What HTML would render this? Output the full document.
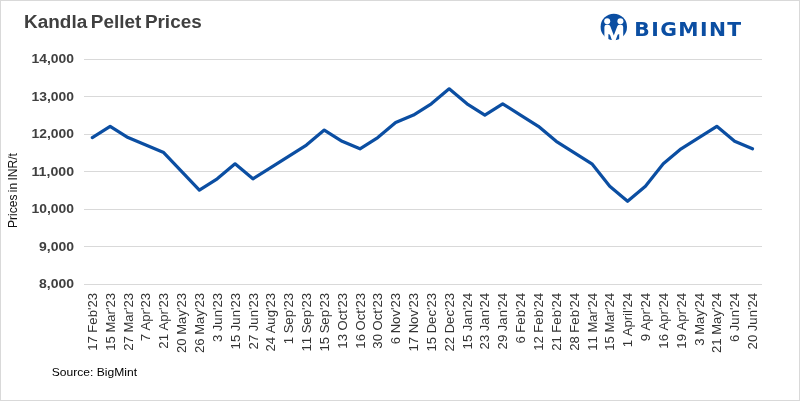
<!DOCTYPE html>
<html><head><meta charset="utf-8"><title>Kandla Pellet Prices</title>
<style>
html,body{margin:0;padding:0;background:#fff;}
body{width:800px;height:401px;overflow:hidden;position:relative;font-family:"Liberation Sans",sans-serif;}
svg{position:absolute;left:0;top:0;display:block}
.frame{position:absolute;left:0;top:0;width:798px;height:399px;border:1px solid #d9d9d9;}
text{font-family:"Liberation Sans",sans-serif;}
.grid line{stroke:#d9d9d9;stroke-width:1;shape-rendering:crispEdges}
.ylab text{font-weight:bold;font-size:12.6px;fill:#404040;text-anchor:end}
.xlab text{font-size:12.6px;fill:#333;text-anchor:end;font-kerning:none}
</style></head><body>
<div class="frame"></div>
<svg width="800" height="401" viewBox="0 0 800 401">
<text x="24.1" y="28.4" font-size="17.6" font-weight="bold" fill="#404040" word-spacing="-1.5" textLength="177.6" lengthAdjust="spacingAndGlyphs">Kandla Pellet Prices</text>
<g class="grid"><line x1="84.0" x2="762.0" y1="284.50" y2="284.50"/><line x1="84.0" x2="762.0" y1="246.50" y2="246.50"/><line x1="84.0" x2="762.0" y1="209.50" y2="209.50"/><line x1="84.0" x2="762.0" y1="171.50" y2="171.50"/><line x1="84.0" x2="762.0" y1="134.50" y2="134.50"/><line x1="84.0" x2="762.0" y1="96.50" y2="96.50"/><line x1="84.0" x2="762.0" y1="59.50" y2="59.50"/></g>
<g class="ylab"><text x="74" y="288.30" textLength="35.0" lengthAdjust="spacingAndGlyphs">8,000</text><text x="74" y="250.80" textLength="35.0" lengthAdjust="spacingAndGlyphs">9,000</text><text x="74" y="213.30" textLength="42.5" lengthAdjust="spacingAndGlyphs">10,000</text><text x="74" y="175.80" textLength="42.5" lengthAdjust="spacingAndGlyphs">11,000</text><text x="74" y="138.30" textLength="42.5" lengthAdjust="spacingAndGlyphs">12,000</text><text x="74" y="100.80" textLength="42.5" lengthAdjust="spacingAndGlyphs">13,000</text><text x="74" y="63.30" textLength="42.5" lengthAdjust="spacingAndGlyphs">14,000</text></g>
<g class="xlab"><text transform="translate(96.92,293) rotate(-90) scale(1.04,1)">17 Feb'23</text><text transform="translate(114.76,293) rotate(-90) scale(1.04,1)">15 Mar'23</text><text transform="translate(132.61,293) rotate(-90) scale(1.04,1)">27 Mar'23</text><text transform="translate(150.45,293) rotate(-90) scale(1.04,1)">7 Apr'23</text><text transform="translate(168.29,293) rotate(-90) scale(1.04,1)">21 Apr'23</text><text transform="translate(186.13,293) rotate(-90) scale(1.04,1)">20 May'23</text><text transform="translate(203.97,293) rotate(-90) scale(1.04,1)">26 May'23</text><text transform="translate(221.82,293) rotate(-90) scale(1.04,1)">3 Jun'23</text><text transform="translate(239.66,293) rotate(-90) scale(1.04,1)">15 Jun'23</text><text transform="translate(257.50,293) rotate(-90) scale(1.04,1)">27 Jun'23</text><text transform="translate(275.34,293) rotate(-90) scale(1.04,1)">24 Aug'23</text><text transform="translate(293.18,293) rotate(-90) scale(1.04,1)">1 Sep'23</text><text transform="translate(311.03,293) rotate(-90) scale(1.04,1)">11 Sep'23</text><text transform="translate(328.87,293) rotate(-90) scale(1.04,1)">15 Sep'23</text><text transform="translate(346.71,293) rotate(-90) scale(1.04,1)">13 Oct'23</text><text transform="translate(364.55,293) rotate(-90) scale(1.04,1)">16 Oct'23</text><text transform="translate(382.39,293) rotate(-90) scale(1.04,1)">30 Oct'23</text><text transform="translate(400.24,293) rotate(-90) scale(1.04,1)">6 Nov'23</text><text transform="translate(418.08,293) rotate(-90) scale(1.04,1)">17 Nov'23</text><text transform="translate(435.92,293) rotate(-90) scale(1.04,1)">15 Dec'23</text><text transform="translate(453.76,293) rotate(-90) scale(1.04,1)">22 Dec'23</text><text transform="translate(471.61,293) rotate(-90) scale(1.04,1)">15 Jan'24</text><text transform="translate(489.45,293) rotate(-90) scale(1.04,1)">23 Jan'24</text><text transform="translate(507.29,293) rotate(-90) scale(1.04,1)">29 Jan'24</text><text transform="translate(525.13,293) rotate(-90) scale(1.04,1)">6 Feb'24</text><text transform="translate(542.97,293) rotate(-90) scale(1.04,1)">12 Feb'24</text><text transform="translate(560.82,293) rotate(-90) scale(1.04,1)">21 Feb'24</text><text transform="translate(578.66,293) rotate(-90) scale(1.04,1)">28 Feb'24</text><text transform="translate(596.50,293) rotate(-90) scale(1.04,1)">11 Mar'24</text><text transform="translate(614.34,293) rotate(-90) scale(1.04,1)">15 Mar'24</text><text transform="translate(632.18,293) rotate(-90) scale(1.04,1)">1 April'24</text><text transform="translate(650.03,293) rotate(-90) scale(1.04,1)">9 Apr'24</text><text transform="translate(667.87,293) rotate(-90) scale(1.04,1)">16 Apr'24</text><text transform="translate(685.71,293) rotate(-90) scale(1.04,1)">19 Apr'24</text><text transform="translate(703.55,293) rotate(-90) scale(1.04,1)">3 May'24</text><text transform="translate(721.39,293) rotate(-90) scale(1.04,1)">21 May'24</text><text transform="translate(739.24,293) rotate(-90) scale(1.04,1)">6 Jun'24</text><text transform="translate(757.08,293) rotate(-90) scale(1.04,1)">20 Jun'24</text></g>
<text transform="translate(16.8,228) rotate(-90)" font-size="12" fill="#111" word-spacing="-1" textLength="74.9" lengthAdjust="spacingAndGlyphs">Prices in INR/t</text>
<polyline points="92.32,137.55 110.16,126.30 128.01,137.55 145.85,145.05 163.69,152.55 181.53,171.30 199.37,190.05 217.22,178.80 235.06,163.80 252.90,178.80 270.74,167.55 288.58,156.30 306.43,145.05 324.27,130.05 342.11,141.30 359.95,148.80 377.79,137.55 395.64,122.55 413.48,115.05 431.32,103.80 449.16,88.80 467.01,103.80 484.85,115.05 502.69,103.80 520.53,115.05 538.37,126.30 556.22,141.30 574.06,152.55 591.90,163.80 609.74,186.30 627.58,201.30 645.43,186.30 663.27,163.80 681.11,148.80 698.95,137.55 716.79,126.30 734.64,141.30 752.48,148.80" fill="none" stroke="#0b4ea2" stroke-width="3.2" stroke-linejoin="round" stroke-linecap="round"/>
<text x="51.8" y="375.8" font-size="11.6" fill="#000" textLength="85.2" lengthAdjust="spacingAndGlyphs">Source: BigMint</text>
<g id="logo">
<clipPath id="cc"><circle cx="613.8" cy="26.95" r="13.2"/></clipPath>
<circle cx="613.8" cy="26.95" r="13.2" fill="#0b4ea2"/>
<circle cx="607.2" cy="21.2" r="3.0" fill="#fff"/>
<circle cx="620.4" cy="21.2" r="3.0" fill="#fff"/>
<path d="M604.4 42 V27 Q604.4 24.7 606.8 24.7 H608 Q610 24.7 610.4 26.5 L613.8 35.6 L617.2 26.5 Q617.6 24.7 619.6 24.7 H620.8 Q623.2 24.7 623.2 27 V42 Z" fill="#fff"/>
<g clip-path="url(#cc)" fill="#0b4ea2"><path d="M608.4 34 L610 34.8 L612.2 41 H608.4 Z"/><path d="M619.2 34 L617.6 34.8 L615.4 41 H619.2 Z"/></g>
<text transform="translate(634.3,35.8) scale(1.13,1.03)" font-family="DejaVu Sans, sans-serif" font-size="18" font-weight="bold" fill="#0b4ea2" textLength="94.6" lengthAdjust="spacing" style="font-family:'DejaVu Sans',sans-serif">BIGMINT</text>
</g>
</svg>
</body></html>
